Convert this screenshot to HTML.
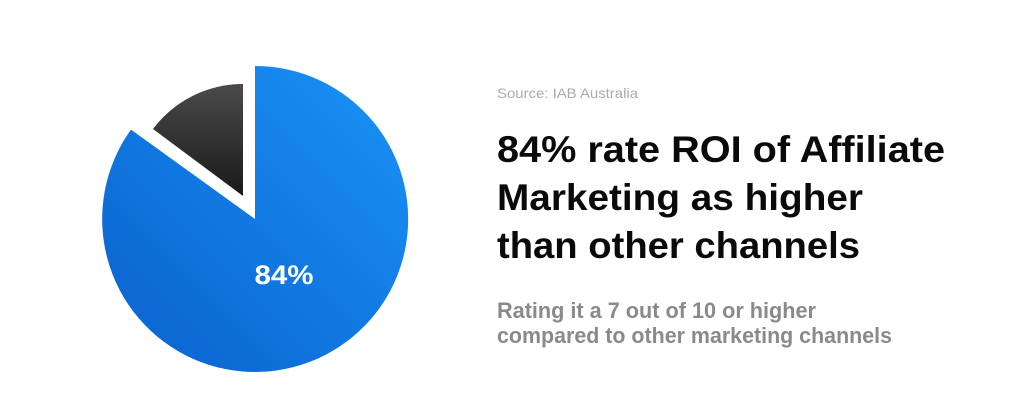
<!DOCTYPE html>
<html><head><meta charset="utf-8"><style>
html,body{margin:0;padding:0;background:#fff;}
svg{display:block;}
</style></head><body>
<svg width="1024" height="415" viewBox="0 0 1024 415" xmlns="http://www.w3.org/2000/svg">
<defs>
<linearGradient id="bl" x1="1" y1="0" x2="0" y2="1">
<stop offset="0" stop-color="#1a93f8"/><stop offset="1" stop-color="#0a60cc"/>
</linearGradient>
<linearGradient id="dk" x1="0" y1="0" x2="0" y2="1">
<stop offset="0" stop-color="#4a4a4a"/><stop offset="1" stop-color="#1a1a1a"/>
</linearGradient>
</defs>
<!-- blue slice: from north clockwise to ~306deg -->
<path d="M255,219 L255,66 A153,153 0 1 1 131,129.6 Z" fill="url(#bl)"/>
<!-- dark slice -->
<path d="M243,196 L243,84 A112,112 0 0 0 153,129 Z" fill="url(#dk)"/>
<text x="284" y="284" text-anchor="middle" font-family="Liberation Sans, sans-serif" font-weight="bold" font-size="27" fill="#fff" textLength="59" lengthAdjust="spacingAndGlyphs">84%</text>
<g font-family="Liberation Sans, sans-serif">
<text x="497" y="98" font-size="14" fill="#ababab" textLength="141" lengthAdjust="spacingAndGlyphs">Source: IAB Australia</text>
<g font-weight="bold" font-size="37" fill="#0a0a0a">
<text x="497" y="162" textLength="448" lengthAdjust="spacingAndGlyphs">84% rate ROI of Affiliate</text>
<text x="497" y="210" textLength="366" lengthAdjust="spacingAndGlyphs">Marketing as higher</text>
<text x="497" y="258" textLength="363" lengthAdjust="spacingAndGlyphs">than other channels</text>
</g>
<g font-size="22" fill="#8a8a8a" font-weight="bold">
<text x="497" y="318" textLength="319" lengthAdjust="spacingAndGlyphs">Rating it a 7 out of 10 or higher</text>
<text x="497" y="343" textLength="395" lengthAdjust="spacingAndGlyphs">compared to other marketing channels</text>
</g>
</g>
</svg>
</body></html>
